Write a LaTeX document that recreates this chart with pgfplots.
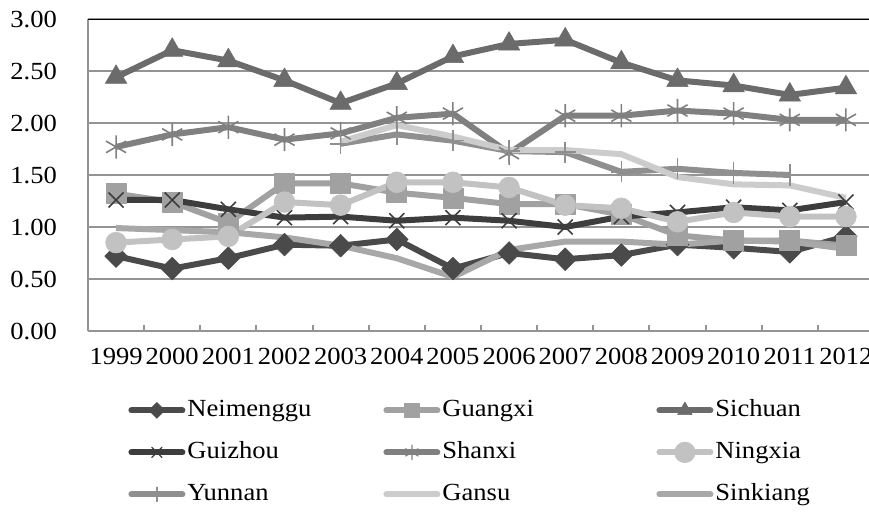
\documentclass[border=0pt]{standalone}
\usepackage{fontspec}
\setmainfont{Liberation Serif}[FakeStretch=1.08]
\usepackage{pgfplots}
\pgfplotsset{compat=1.18}

\definecolor{cNei}{gray}{0.29}
\definecolor{cGuangxi}{gray}{0.63}
\definecolor{cSichuan}{gray}{0.42}
\definecolor{cGuizhou}{gray}{0.24}
\definecolor{cShanxi}{gray}{0.50}
\definecolor{cNingxia}{gray}{0.76}
\definecolor{cYunnan}{gray}{0.56}
\definecolor{cGansu}{gray}{0.80}
\definecolor{cSink}{gray}{0.66}
\definecolor{cGrid}{gray}{0.58}

\begin{document}
\begin{tikzpicture}
\begin{axis}[
  scale only axis, width=393pt, height=156pt,
  font=\fontsize{12.3}{14}\selectfont,
  xmin=-0.5, xmax=13.5, ymin=0, ymax=3,
  xtick={0,...,13},
  xticklabels={1999,2000,2001,2002,2003,2004,2005,2006,2007,2008,2009,2010,2011,2012},
  minor xtick={0.5,1.5,...,12.5},
  ytick={0,0.5,...,3},
  yticklabel={\pgfmathprintnumber[fixed,fixed zerofill,precision=2,assume math mode=true]{\tick}},
  major tick length=0pt, minor tick length=3pt, tick align=inside,
  minor tick style={cGrid, line width=1pt},
  axis x line*=bottom, axis y line*=left,
  axis line style={cGrid, line width=1pt, -},
  ymajorgrids, grid style={cGrid, line width=1pt},
  yticklabel style={xshift=-12pt},
  xticklabel style={yshift=-5pt},
  every axis plot/.append style={line width=3pt, line join=round},
  legend columns=3,
  legend style={at={(0.0509,-0.2147)}, anchor=north west, draw=none, fill=none,
    inner sep=0pt, column sep=0pt, row sep=9pt,
    nodes={inner xsep=1pt, inner ysep=0pt, text height=9pt, text depth=3pt},
    cells={anchor=west}},
  legend image code/.code={\draw[#1, line cap=round, mark repeat=2, mark phase=2]
    plot coordinates {(1.5pt,0pt) (14.25pt,0pt) (27pt,0pt)};},
]
% Neimenggu
\addplot[cNei, mark=square*, mark size=4pt, mark options={solid, rotate=45, fill=cNei, draw=cNei, line width=0.3pt}, forget plot] coordinates {
(0,0.72) (1,0.60) (2,0.70) (3,0.83) (4,0.82) (5,0.88) (6,0.60) (7,0.75) (8,0.69) (9,0.73) (10,0.83) (11,0.80) (12,0.76) (13,0.91)};
% Guangxi
\addplot[cGuangxi, mark=square*, mark size=5pt, mark options={solid, fill=cGuangxi, draw=cGuangxi, line width=0.3pt}, forget plot] coordinates {
(0,1.32) (1,1.24) (2,1.04) (3,1.42) (4,1.42) (5,1.33) (6,1.28) (7,1.22) (8,1.22) (9,1.12) (10,0.92) (11,0.87) (12,0.87) (13,0.82)};
% Sichuan
\addplot[cSichuan, mark=triangle*, mark size=6.2pt, mark options={solid, fill=cSichuan, draw=cSichuan, line width=0.3pt}, forget plot] coordinates {
(0,2.44) (1,2.70) (2,2.60) (3,2.41) (4,2.19) (5,2.38) (6,2.64) (7,2.76) (8,2.80) (9,2.58) (10,2.41) (11,2.36) (12,2.27) (13,2.34)};
% Guizhou
\addplot[cGuizhou, mark=x, mark size=5.3pt, mark options={solid, line width=0.8pt}, forget plot] coordinates {
(0,1.26) (1,1.26) (2,1.17) (3,1.09) (4,1.10) (5,1.06) (6,1.09) (7,1.06) (8,1.00) (9,1.10) (10,1.14) (11,1.19) (12,1.16) (13,1.24)};
% Shanxi
\addplot[cShanxi, mark=asterisk, mark size=5.8pt, mark options={solid, line width=0.8pt}, forget plot] coordinates {
(0,1.77) (1,1.89) (2,1.96) (3,1.84) (4,1.90) (5,2.05) (6,2.09) (7,1.71) (8,2.07) (9,2.07) (10,2.12) (11,2.09) (12,2.03) (13,2.03)};
% Ningxia
\addplot[cNingxia, mark=*, mark size=5.2pt, mark options={solid, fill=cNingxia, draw=cNingxia, line width=0.3pt}, forget plot] coordinates {
(0,0.85) (1,0.88) (2,0.91) (3,1.24) (4,1.21) (5,1.43) (6,1.43) (7,1.38) (8,1.21) (9,1.18) (10,1.05) (11,1.14) (12,1.10) (13,1.10)};
% Yunnan
\addplot[cYunnan, mark=+, mark size=5.3pt, mark options={solid, line width=0.8pt}, forget plot] coordinates {
(4,1.80) (5,1.89) (6,1.83) (7,1.73) (8,1.72) (9,1.53) (10,1.56) (11,1.52) (12,1.50)};
% Gansu
\addplot[cGansu, no markers, forget plot] coordinates {
(4,1.82) (5,1.98) (6,1.87) (7,1.74) (8,1.74) (9,1.70) (10,1.48) (11,1.41) (12,1.40) (13,1.28)};
% Sinkiang
\addplot[cSink, no markers, forget plot] coordinates {
(0,0.99) (1,0.97) (2,0.95) (3,0.90) (4,0.82) (5,0.70) (6,0.52) (7,0.78) (8,0.86) (9,0.86) (10,0.83) (11,0.87) (12,0.86) (13,0.79)};

\draw[black, line width=1pt] (rel axis cs:0,1) -- (rel axis cs:1,1);

\addlegendimage{cNei, line width=3pt, mark=square*, mark size=2.8pt, mark options={solid, rotate=45, fill=cNei, draw=cNei, line width=0.3pt}}
\addlegendentry{\makebox[97pt][l]{Neimenggu}}
\addlegendimage{cGuangxi, line width=3pt, mark=square*, mark size=3.6pt, mark options={solid, fill=cGuangxi, draw=cGuangxi, line width=0.3pt}}
\addlegendentry{\makebox[106pt][l]{Guangxi}}
\addlegendimage{cSichuan, line width=3pt, mark=triangle*, mark size=4.2pt, mark options={solid, fill=cSichuan, draw=cSichuan, line width=0.3pt}}
\addlegendentry{Sichuan}
\addlegendimage{cGuizhou, line width=3pt, mark=x, mark size=3.6pt, mark options={solid, line width=0.6pt}}
\addlegendentry{\makebox[97pt][l]{Guizhou}}
\addlegendimage{cShanxi, line width=3pt, mark=asterisk, mark size=3.6pt, mark options={solid, line width=0.6pt}}
\addlegendentry{\makebox[106pt][l]{Shanxi}}
\addlegendimage{cNingxia, line width=3pt, mark=*, mark size=3.8pt, mark options={solid, fill=cNingxia, draw=cNingxia}}
\addlegendentry{Ningxia}
\addlegendimage{cYunnan, line width=3pt, mark=+, mark size=3.6pt, mark options={solid, line width=0.6pt}}
\addlegendentry{\makebox[97pt][l]{Yunnan}}
\addlegendimage{cGansu, line width=3pt}
\addlegendentry{\makebox[106pt][l]{Gansu}}
\addlegendimage{cSink, line width=3pt}
\addlegendentry{Sinkiang}
\end{axis}
\pgfresetboundingbox
\path (-44pt,-91pt) rectangle (390.5pt,165.5pt);
\end{tikzpicture}
\end{document}
